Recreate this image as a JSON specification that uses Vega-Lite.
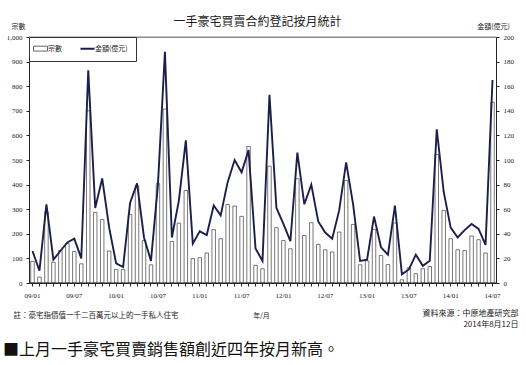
{
  "$schema": "https://vega.github.io/schema/vega-lite/v6.json",
  "width": 467,
  "height": 246,
  "autosize": {"type": "none"},
  "padding": {"left": 29, "top": 37, "right": 30, "bottom": 82},
  "background": "white",
  "title": {
    "text": "■上月一手豪宅買賣銷售額創近四年按月新高。",
    "orient": "bottom",
    "anchor": "start",
    "frame": "group",
    "dx": -26,
    "offset": 14,
    "fontSize": 16,
    "fontWeight": "normal",
    "color": "#111111",
    "font": "Noto Sans CJK TC"
  },
  "config": {
    "font": "Noto Sans CJK TC",
    "view": {"stroke": "#888888", "strokeWidth": 1},
    "axis": {
      "grid": false,
      "labelFont": "Liberation Serif",
      "labelFontSize": 7,
      "labelColor": "#222222",
      "domainColor": "#222222",
      "tickColor": "#222222",
      "tickSize": 3,
      "titleFont": "Noto Sans CJK TC",
      "titleFontWeight": "normal",
      "titleColor": "#222222",
      "titleFontSize": 7
    },
    "legend": {
      "orient": "top-left",
      "offset": 0,
      "direction": "horizontal",
      "strokeColor": "#333333",
      "fillColor": "#ffffff",
      "padding": 8,
      "labelFontSize": 7,
      "labelFont": "Noto Sans CJK TC",
      "labelColor": "#222222",
      "columnPadding": 14,
      "symbolSize": 196,
      "labelOffset": 4,
      "symbolType": {"expr": "datum.value === '宗數' ? 'M-1,-0.35H1V0.35H-1Z' : 'stroke'"},
      "symbolFillColor": {"expr": "datum.value === '宗數' ? '#ffffff' : 'transparent'"},
      "symbolStrokeWidth": {"expr": "datum.value === '宗數' ? 0.9 : 2"}
    }
  },
  "data": {
    "values": [
      {"month": "09/01", "count": 88, "amount": 26},
      {"month": "09/02", "count": 24, "amount": 10},
      {"month": "09/03", "count": 290, "amount": 64},
      {"month": "09/04", "count": 84, "amount": 19},
      {"month": "09/05", "count": 132, "amount": 26},
      {"month": "09/06", "count": 160, "amount": 33},
      {"month": "09/07", "count": 128, "amount": 36},
      {"month": "09/08", "count": 78, "amount": 20},
      {"month": "09/09", "count": 700, "amount": 173},
      {"month": "09/10", "count": 287, "amount": 61},
      {"month": "09/11", "count": 258, "amount": 85},
      {"month": "09/12", "count": 130, "amount": 45},
      {"month": "10/01", "count": 55, "amount": 16},
      {"month": "10/02", "count": 55, "amount": 13},
      {"month": "10/03", "count": 279, "amount": 65},
      {"month": "10/04", "count": 395, "amount": 81},
      {"month": "10/05", "count": 173, "amount": 37},
      {"month": "10/06", "count": 74, "amount": 18},
      {"month": "10/07", "count": 404, "amount": 80},
      {"month": "10/08", "count": 707, "amount": 188},
      {"month": "10/09", "count": 169, "amount": 37},
      {"month": "10/10", "count": 243, "amount": 67},
      {"month": "10/11", "count": 376, "amount": 116},
      {"month": "10/12", "count": 99, "amount": 32},
      {"month": "11/01", "count": 103, "amount": 42},
      {"month": "11/02", "count": 122, "amount": 39},
      {"month": "11/03", "count": 217, "amount": 63},
      {"month": "11/04", "count": 180, "amount": 55},
      {"month": "11/05", "count": 319, "amount": 82},
      {"month": "11/06", "count": 313, "amount": 100},
      {"month": "11/07", "count": 271, "amount": 90},
      {"month": "11/08", "count": 555, "amount": 108},
      {"month": "11/09", "count": 72, "amount": 28},
      {"month": "11/10", "count": 58, "amount": 18},
      {"month": "11/11", "count": 475, "amount": 153},
      {"month": "11/12", "count": 225, "amount": 61},
      {"month": "12/01", "count": 173, "amount": 48},
      {"month": "12/02", "count": 139, "amount": 34},
      {"month": "12/03", "count": 424, "amount": 106},
      {"month": "12/04", "count": 193, "amount": 64},
      {"month": "12/05", "count": 245, "amount": 80},
      {"month": "12/06", "count": 157, "amount": 50},
      {"month": "12/07", "count": 135, "amount": 41},
      {"month": "12/08", "count": 126, "amount": 36},
      {"month": "12/09", "count": 207, "amount": 59},
      {"month": "12/10", "count": 417, "amount": 98},
      {"month": "12/11", "count": 238, "amount": 64},
      {"month": "12/12", "count": 74, "amount": 18},
      {"month": "13/01", "count": 90, "amount": 19},
      {"month": "13/02", "count": 218, "amount": 54},
      {"month": "13/03", "count": 112, "amount": 29},
      {"month": "13/04", "count": 75, "amount": 23},
      {"month": "13/05", "count": 244, "amount": 63},
      {"month": "13/06", "count": 13, "amount": 7},
      {"month": "13/07", "count": 62, "amount": 11},
      {"month": "13/08", "count": 38, "amount": 23},
      {"month": "13/09", "count": 58, "amount": 14},
      {"month": "13/10", "count": 67, "amount": 18},
      {"month": "13/11", "count": 523, "amount": 125},
      {"month": "13/12", "count": 295, "amount": 74},
      {"month": "14/01", "count": 180, "amount": 45},
      {"month": "14/02", "count": 135, "amount": 37},
      {"month": "14/03", "count": 132, "amount": 43},
      {"month": "14/04", "count": 191, "amount": 48},
      {"month": "14/05", "count": 176, "amount": 44},
      {"month": "14/06", "count": 122, "amount": 31},
      {"month": "14/07", "count": 735, "amount": 165}
    ]
  },
  "layer": [
    {
      "mark": {"type": "bar", "fill": "#ffffff", "filled": true, "strokeWidth": 0.8},
      "encoding": {
        "x": {
          "field": "month",
          "type": "ordinal",
          "scale": {"paddingInner": 0.5, "paddingOuter": 0.25},
          "axis": {
            "orient": "bottom",
            "labelExpr": "(slice(datum.value, 3) == '01' || slice(datum.value, 3) == '07') ? datum.value : ''",
            "labelOverlap": false,
            "labelAngle": 0,
            "labelPadding": 5,
            "title": "年/月",
            "titleX": 232,
            "titleY": 32.5,
            "titleAlign": "center",
            "titleBaseline": "middle",
            "titleFontSize": 7
          }
        },
        "y": {
          "field": "count",
          "type": "quantitative",
          "scale": {"domain": [0, 1000]},
          "axis": {
            "orient": "left",
            "values": [0, 100, 200, 300, 400, 500, 600, 700, 800, 900, 1000],
            "labelPadding": 4,
            "title": "宗數",
            "titleAngle": 0,
            "titleX": -11,
            "titleY": -11,
            "titleAlign": "center",
            "titleBaseline": "middle"
          }
        },
        "stroke": {
          "datum": "宗數",
          "type": "nominal",
          "scale": {"domain": ["宗數", "金額(億元)"], "range": ["#555555", "#1c1f4a"]},
          "legend": {"title": null}
        }
      }
    },
    {
      "mark": {"type": "line", "strokeWidth": 1.9},
      "encoding": {
        "x": {
          "field": "month",
          "type": "ordinal",
          "axis": {
            "orient": "top",
            "labels": false,
            "ticks": false,
            "domain": false,
            "title": "一手豪宅買賣合約登記按月統計",
            "titleX": 228,
            "titleY": -16,
            "titleAlign": "center",
            "titleBaseline": "middle",
            "titleFontSize": 12
          }
        },
        "y": {
          "field": "amount",
          "type": "quantitative",
          "scale": {"domain": [0, 200]},
          "axis": {
            "orient": "right",
            "values": [0, 20, 40, 60, 80, 100, 120, 140, 160, 180, 200],
            "labelPadding": 4,
            "title": "金額(億元)",
            "titleAngle": 0,
            "titleX": -3,
            "titleY": -11,
            "titleAlign": "center",
            "titleBaseline": "middle"
          }
        },
        "stroke": {"datum": "金額(億元)", "type": "nominal", "legend": {"title": null}}
      }
    },
    {
      "data": {"values": [{"edge": "top"}]},
      "mark": {"type": "rule", "color": "#888888", "strokeWidth": 1},
      "encoding": {
        "y": {
          "datum": 1000,
          "type": "quantitative",
          "scale": {"domain": [0, 1000]},
          "axis": {
            "orient": "left",
            "labels": false,
            "ticks": false,
            "domain": false,
            "title": "註：豪宅指價值一千二百萬元以上的一手私人住宅",
            "titleAngle": 0,
            "titleX": -16,
            "titleY": 278,
            "titleAlign": "left",
            "titleBaseline": "middle",
            "titleFontSize": 7.5
          }
        }
      }
    },
    {
      "data": {"values": [{"edge": "bottom"}]},
      "mark": {"type": "rule", "color": "#222222", "strokeWidth": 1},
      "encoding": {
        "y": {
          "datum": 0,
          "type": "quantitative",
          "scale": {"domain": [0, 1000]},
          "axis": {
            "orient": "right",
            "labels": false,
            "ticks": false,
            "domain": false,
            "title": ["資料來源：中原地產研究部", "2014年8月12日"],
            "titleAngle": 0,
            "titleX": 22,
            "titleY": 272,
            "titleAlign": "right",
            "titleBaseline": "top",
            "titleLineHeight": 11,
            "titleFontSize": 8
          }
        }
      }
    }
  ],
  "resolve": {"scale": {"y": "independent"}, "axis": {"x": "independent"}}
}
